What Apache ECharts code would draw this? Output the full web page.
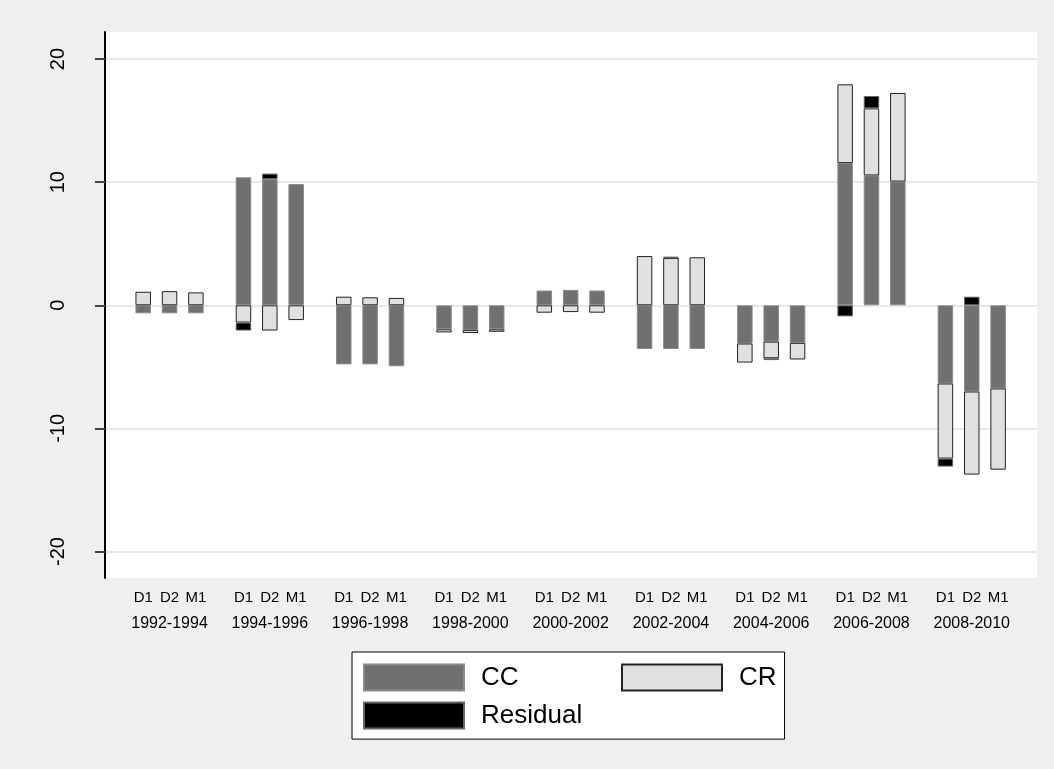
<!DOCTYPE html>
<html>
<head>
<meta charset="utf-8">
<script src="https://cdn.jsdelivr.net/npm/echarts@6/dist/echarts.min.js"></script>
<style>
html, body { margin: 0; padding: 0; background: #efefef; }
#chart { width: 1054px; height: 769px; }
</style>
</head>
<body>
<div id="chart"></div>
<script>
// periods and the three models shown in each period
const periods = ['1992-1994', '1994-1996', '1996-1998', '1998-2000', '2000-2002',
                 '2002-2004', '2004-2006', '2006-2008', '2008-2010'];
const models = ['D1', 'D2', 'M1'];
const yTicks = [-20, -10, 0, 10, 20];

// CC component
const ccD1 = [-0.65, 10.4, -4.8, -1.95, 1.2, -3.55, -3.1, 11.55, -6.35];
const ccD2 = [-0.65, 10.25, -4.8, -2.0, 1.25, -3.55, -2.95, 10.55, -7.0];
const ccM1 = [-0.65, 9.85, -4.95, -1.95, 1.2, -3.55, -3.05, 10.05, -6.75];
// CR component
const crD1 = [1.1, -1.4, 0.7, -0.25, -0.6, 4.0, -1.55, 6.4, -6.1];
const crD2 = [1.15, -2.05, 0.65, -0.25, -0.55, 3.85, -1.35, 5.45, -6.75];
const crM1 = [1.05, -1.2, 0.6, -0.2, -0.6, 3.9, -1.35, 7.2, -6.6];
// residual
const resD1 = [0, -0.65, 0, 0, 0, 0, 0, -0.9, -0.65];
const resD2 = [0, 0.45, 0, 0, 0, 0.1, -0.15, 1.0, 0.7];
const resM1 = [0, 0, 0, 0, 0, 0, 0, 0, 0];

const FONT = '"Liberation Sans", Arial, Helvetica, sans-serif';
const chart = echarts.init(document.getElementById('chart'));

const parts = [
  { name: 'CC', color: '#707070', border: '#8a8a8a', data: [ccD1, ccD2, ccM1] },
  { name: 'CR', color: '#e0e0e0', border: '#222222', data: [crD1, crD2, crM1] },
  { name: 'Residual', color: '#000000', border: '#666666', data: [resD1, resD2, resM1] }
];

const series = [];
models.forEach((m, mi) => {
  parts.forEach(p => {
    series.push({
      name: p.name,
      type: 'bar',
      stack: m,
      xAxisIndex: 1,
      yAxisIndex: 1,
      barWidth: 15.5,
      barGap: '70%',
      itemStyle: { color: p.color, borderColor: p.border, borderWidth: 1 },
      emphasis: { disabled: true },
      data: p.data[mi].map(v => (v === 0 ? null : v))
    });
  });
});

const option = {
  animation: false,
  backgroundColor: '#efefef',
  textStyle: { fontFamily: FONT },
  grid: [
    // white plot region with the y axis and grid lines
    { left: 105, right: 17, top: 32, bottom: 191, show: true, backgroundColor: '#ffffff',
      borderWidth: 0, containLabel: false, outerBoundsMode: 'none' },
    // bars, inset so the period groups sit where they do in the original
    { left: 119.4, right: 32.1, top: 32, bottom: 191, containLabel: false, outerBoundsMode: 'none' }
  ],
  xAxis: [
    { gridIndex: 0, type: 'value', min: 0, max: 1, show: false },
    {
      gridIndex: 1,
      type: 'category',
      data: periods,
      axisLine: { show: false },
      axisTick: { show: false },
      splitLine: { show: false },
      axisLabel: {
        interval: 0,
        margin: 7,
        color: '#000',
        formatter: function (v) {
          return models.map(m => '{m|' + m + '}').join('') + '\n{p|' + v + '}';
        },
        rich: {
          m: { width: 26.3, align: 'center', fontSize: 15, lineHeight: 26, fontFamily: FONT, color: '#000' },
          p: { fontSize: 16, lineHeight: 26, fontFamily: FONT, color: '#000' }
        }
      }
    }
  ],
  yAxis: [
    {
      gridIndex: 0,
      type: 'value',
      min: -22.15,
      max: 22.2,
      axisLine: { show: true, lineStyle: { color: '#000', width: 2 } },
      axisTick: { show: true, length: 10, customValues: yTicks, lineStyle: { color: '#444', width: 2 } },
      axisLabel: { customValues: yTicks, rotate: 90, margin: 37, fontSize: 20, color: '#000', fontFamily: FONT },
      splitLine: { show: true, lineStyle: { color: '#e8e8e8', width: 2 } }
    },
    { gridIndex: 1, type: 'value', min: -22.15, max: 22.2, show: false, splitLine: { show: false } }
  ],
  legend: {
    left: 352,
    top: 652,
    width: 500,
    orient: 'horizontal',
    padding: [11.6, 8, 9.5, 11],
    itemGap: 10,
    itemWidth: 100,
    itemHeight: 26,
    icon: 'rect',
    backgroundColor: '#ffffff',
    borderColor: '#000',
    borderWidth: 1,
    borderRadius: 0,
    selectedMode: false,
    formatter: function (name) {
      return name === 'CC' ? '{w|' + name + '}' : '{n|' + name + '}';
    },
    textStyle: {
      fontSize: 26, color: '#000', fontFamily: FONT,
      rich: {
        w: { width: 130, padding: [0, 0, 0, 12], fontSize: 26, lineHeight: 26, fontFamily: FONT, color: '#000' },
        n: { padding: [0, 0, 0, 12], fontSize: 26, lineHeight: 26, fontFamily: FONT, color: '#000' }
      }
    },
    data: ['CC', 'CR', 'Residual']
  },
  series: series
};

chart.setOption(option);
</script>
</body>
</html>
